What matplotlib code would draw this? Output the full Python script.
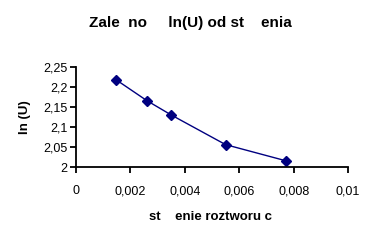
import matplotlib.pyplot as plt

conc = [0.00147, 0.0026, 0.0035, 0.0055, 0.0077]
ln_u = [2.218, 2.166, 2.130, 2.056, 2.016]

x_ticks = [0, 0.002, 0.004, 0.006, 0.008, 0.01]
x_labels = ['0', '0,002', '0,004', '0,006', '0,008', '0,01']
y_ticks = [2, 2.05, 2.1, 2.15, 2.2, 2.25]
y_labels = ['2', '2,05', '2,1', '2,15', '2,2', '2,25']

plt.rcParams['font.family'] = ['Liberation Sans', 'DejaVu Sans']

fig = plt.figure(figsize=(3.8, 2.45), dpi=100)
ax = fig.add_axes([0.2, 0.318, 0.716, 0.409])

ax.plot(conc, ln_u, color='#000080', linewidth=1.0, marker='D',
        markersize=5.5, markerfacecolor='#000080', markeredgecolor='#000080')

ax.set_xlim(0, 0.01)
ax.set_ylim(2, 2.25)
ax.set_xticks(x_ticks)
ax.set_xticklabels(x_labels)
ax.set_yticks(y_ticks)
ax.set_yticklabels(y_labels)

for side in ['top', 'right']:
    ax.spines[side].set_visible(False)
for side in ['left', 'bottom']:
    ax.spines[side].set_linewidth(1.3)
ax.tick_params(axis='both', direction='out', length=4, width=1.3,
               labelsize=9)
ax.tick_params(axis='x', pad=9)
ax.tick_params(axis='y', pad=2)

fig.text(0.5, 0.905, 'Zale  no     ln(U) od st    enia', ha='center',
         va='center', fontsize=11, fontweight='bold')
fig.text(0.555, 0.115, 'st    enie roztworu c', ha='center', va='center',
         fontsize=9.5, fontweight='bold')
fig.text(0.065, 0.52, 'ln (U)', ha='center', va='center', rotation=90,
         fontsize=9.5, fontweight='bold')

fig.savefig('out.png', dpi=100)
